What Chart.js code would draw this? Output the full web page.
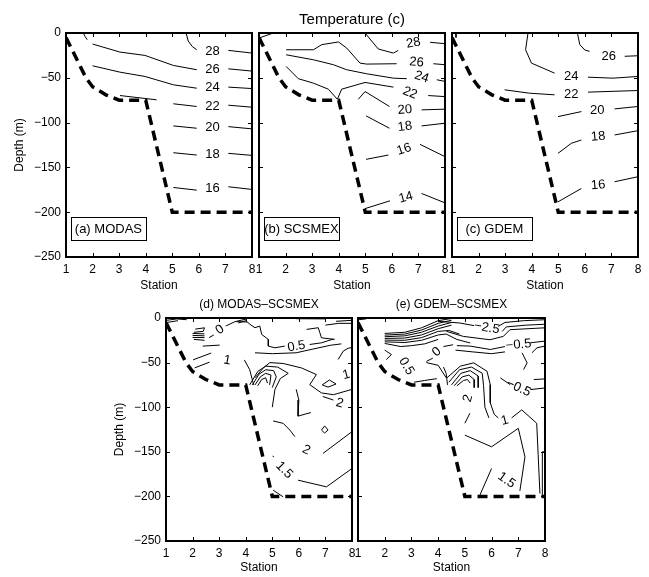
<!DOCTYPE html>
<html>
<head>
<meta charset="utf-8">
<script src="https://cdn.jsdelivr.net/npm/chart.js@4.4.0/dist/chart.umd.min.js"></script>
<style>
body { margin: 0; background: #fff; width: 649px; height: 577px; overflow: hidden; position: relative; }
canvas { position: absolute; left: 0; top: 0; }
</style>
</head>
<body>
<canvas id="pa" width="649" height="577"></canvas>
<canvas id="pb" width="649" height="577"></canvas>
<canvas id="pc" width="649" height="577"></canvas>
<canvas id="pd" width="649" height="577"></canvas>
<canvas id="pe" width="649" height="577"></canvas>
<script>
var FONT = "'Liberation Sans', Arial, sans-serif";

// axes
var stations = [1, 2, 3, 4, 5, 6, 7, 8];
var depthTicks = [0, -50, -100, -150, -200, -250];

// shelf bottom (dashed)
var bottomStation = [1, 1.5, 1.75, 2, 2.5, 3, 4, 5, 8];
var bottomDepth = [-5, -35, -50, -60, -69, -75, -75, -200, -200];

// (a) MODAS contours [station, depth]
var modasLines = [
    [[1.65, 0], [1.72, -4], [1.8, -7.5]],
    [[5.52, 0], [5.6, -9], [5.75, -15], [5.92, -18.7]],
    [[7.11, -19.4], [8, -22.4]],
    [[2.0, -12.3], [3.03, -21.3], [3.97, -25], [5.04, -36.2], [5.92, -41]],
    [[7.11, -40], [8, -42.5]],
    [[2.0, -36.6], [3.03, -43.7], [3.97, -48.5], [5.04, -57.8], [5.92, -61.6]],
    [[7.11, -60.4], [8, -62]],
    [[3.03, -69.8], [4.41, -74.6]],
    [[5.04, -79], [5.92, -82]],
    [[7.11, -80.6], [8, -82.8]],
    [[5.04, -103.7], [5.92, -106.3]],
    [[7.11, -104.5], [8, -107]],
    [[5.04, -133.6], [5.92, -136.2]],
    [[7.11, -134.3], [8, -136.6]],
    [[5.04, -172.4], [5.92, -175.4]],
    [[7.11, -171.6], [8, -174.6]]
];
var modasLabels = [["28", 6.51, -20.5, 0], ["26", 6.51, -41, 0], ["24", 6.51, -60.4, 0], ["22", 6.51, -82, 0],
    ["20", 6.51, -105.6, 0], ["18", 6.51, -135, 0], ["16", 6.51, -173.9, 0]];

// (b) SCSMEX
var scsmexLines = [
    [[1, -5.6], [1.54, 0]],
    [[4.99, 0], [5.49, -17.9], [6.06, -22.4], [6.24, -19.4]],
    [[7.44, -10.4], [8, -11.9]],
    [[2.02, -18.7], [3.05, -18.7], [3.36, -13], [3.99, -10], [4.3, -16.8], [4.8, -33.6], [5.05, -34.7], [6.18, -34.3]],
    [[7.56, -34.3], [8, -35.4]],
    [[2.02, -24.3], [3.05, -29.9], [3.8, -35.4], [4.3, -41], [5.05, -45.5], [6.06, -50.4], [6.56, -51]],
    [[7.69, -52.2], [8, -54]],
    [[2.02, -37.3], [2.48, -51], [3.05, -56], [3.61, -62.7], [3.95, -74], [4.11, -62.7], [4.99, -55.2], [6.06, -60.4]],
    [[7.37, -69.8], [8, -71]],
    [[4.74, -73.9], [4.99, -65.3], [5.91, -82]],
    [[7.12, -85.8], [8, -85]],
    [[5.03, -92.5], [5.91, -106.3]],
    [[7.12, -103.7], [8, -100.7]],
    [[5.03, -141], [5.87, -136.2]],
    [[7.06, -124.3], [8, -138]],
    [[4.99, -196], [5.93, -187.3]],
    [[7.12, -179.1], [8, -189.6]]
];
var scsmexLabels = [["28", 6.81, -11.2, -10], ["26", 6.93, -32.8, 5], ["24", 7.12, -49.3, 18], ["22", 6.68, -67, 22],
    ["20", 6.49, -85.8, -5], ["18", 6.49, -104.5, -8], ["16", 6.46, -129.9, -18], ["14", 6.53, -183.6, -15]];

// (c) GDEM
var gdemLines = [
    [[1.15, 0], [1.15, -5]],
    [[5.72, 0], [5.81, -13], [6.0, -19], [6.18, -20.5]],
    [[7.5, -26], [8, -25.4]],
    [[3.86, 0], [3.77, -18.7], [3.99, -33.6], [4.86, -44.8]],
    [[6.12, -49.3], [7.06, -50.4], [8, -48.5]],
    [[2.98, -63.4], [3.92, -67.2], [4.86, -69]],
    [[6.12, -66], [8, -64.2]],
    [[4.99, -93.3], [5.87, -87.7]],
    [[7.12, -84.7], [8, -82]],
    [[4.99, -134.3], [5.49, -123.1], [5.87, -119.4]],
    [[7.12, -113.8], [8, -109]],
    [[4.99, -188.4], [5.87, -173.5]],
    [[7.12, -166], [8, -160.4]]
];
var gdemLabels = [["26", 6.9, -26, 0], ["24", 5.49, -48.5, 0], ["22", 5.49, -68.3, 0], ["20", 6.47, -86.6, 0],
    ["18", 6.5, -115.7, -5], ["16", 6.5, -169.8, -5]];

// (d) MODAS-SCSMEX
var diffModasLines = [
    [[1.02, -2.6], [1.4, -1.1], [1.78, -1.9]],
    [[1.03, -5], [1.45, -3]],
    [[3.65, -3.7], [4.03, -1.1]],
    [[5.9, -0.8], [7.0, -1]],
    [[7.4, -3.7], [8, -2.6]],
    [[2.1, -12.5], [2.45, -11], [2.4, -15], [2.05, -16]],
    [[2.0, -17.3], [2.45, -17.8]],
    [[2.0, -19.5], [2.45, -20]],
    [[2.0, -21.8], [2.45, -22]],
    [[2.05, -24], [2.45, -25]],
    [[2.38, -31.5], [3.02, -30.4]],
    [[2.62, -22], [2.8, -19]],
    [[3.25, -9], [3.6, -4], [4.05, -4.5]],
    [[2.02, -46.9], [2.7, -39.3]],
    [[2.08, -55.9], [2.64, -49.5]],
    [[3.72, -5.6], [4.0, -3], [4.2, -8], [4.35, -10.9], [4.53, -9], [4.6, -18.4], [4.85, -24], [4.85, -31.5], [5.1, -33.4], [5.47, -31.5]],
    [[6.41, -29.7], [6.85, -27.8], [7.3, -23.6]],
    [[6.29, -12.8], [6.73, -10.9], [6.79, -16.5], [6.85, -22.2], [7.35, -24]],
    [[7.0, -8], [7.5, -6], [8, -6]],
    [[4.35, -39], [5.0, -40], [5.9, -39], [6.5, -35], [7.2, -30.5], [7.6, -29]],
    [[7.48, -46.5], [7.67, -37.2], [7.85, -34], [8, -33]],
    [[4.35, -67], [4.66, -56], [4.91, -50], [5.41, -51], [6.1, -56], [6.66, -63.4], [6.41, -74.7], [6.85, -84], [7.3, -86], [8, -80]],
    [[4.15, -75], [4.45, -60], [4.75, -54], [5.2, -55], [5.6, -62], [5.3, -68], [5.1, -80], [5.0, -100]],
    [[4.25, -75], [4.5, -63], [4.75, -58], [5.05, -59], [5.15, -66], [5.0, -78]],
    [[4.35, -75], [4.55, -66], [4.75, -62], [4.95, -64], [4.9, -75]],
    [[4.45, -76], [4.6, -69], [4.75, -67], [4.82, -73]],
    [[3.95, -47], [4.15, -58], [4.3, -75]],
    [[5.9, -80], [6.0, -92], [5.97, -110], [6.45, -106]],
    [[6.88, -75], [7.15, -69.5], [7.4, -74], [7.1, -77.5], [6.88, -75]],
    [[6.9, -88], [7.3, -92]],
    [[5.03, -115.4], [5.41, -118.1], [5.66, -125.6], [5.85, -133]],
    [[6.85, -125.6], [6.97, -121], [7.1, -125.6], [6.97, -129], [6.85, -125.6]],
    [[6.91, -151.8], [8, -127.4]],
    [[5.97, -181.8], [7.04, -189.3], [8, -168.7]],
    [[5.03, -193], [5.41, -200.5]],
    [[5.02, -154.5], [5.05, -156]]
];
var diffModasLabels = [["0", 3.03, -13.1, -35], ["1", 3.3, -47.6, 10], ["0.5", 5.91, -31.9, -10], ["1", 7.79, -63.7, -15],
    ["2", 7.54, -95.6, 15], ["2", 6.28, -148, 25], ["1.5", 5.45, -170.5, 45]];

// (e) GDEM-SCSMEX
var diffGdemLines = [
    [[1, -2], [1.3, -1]],
    [[2.0, -17.3], [2.75, -16], [3.38, -11], [4.0, -3], [4.5, -0.5]],
    [[2.0, -19.2], [2.75, -18], [3.38, -13.5], [4.0, -6], [4.5, -2.5]],
    [[2.0, -21], [2.75, -20], [3.38, -16], [4.0, -9], [4.5, -5]],
    [[2.0, -22.9], [2.75, -22.5], [3.38, -19], [4.0, -12], [4.5, -8]],
    [[2.0, -24.8], [2.75, -25], [3.38, -22], [4.0, -15], [4.4, -14], [4.8, -18]],
    [[2.0, -26.7], [2.75, -27.5], [3.38, -25], [4.0, -19], [4.3, -18], [4.7, -24], [5.2, -28]],
    [[2.0, -28.5], [2.6, -32], [3.0, -31], [3.5, -29], [4.0, -24]],
    [[4.0, -3.7], [4.81, -5.6], [5.35, -8.6]],
    [[6.25, -9.4], [6.5, -5], [7.2, -3], [8, -1.9]],
    [[6.4, -15], [6.55, -10], [7.3, -8], [8, -7]],
    [[4.31, -15], [4.94, -20.6], [5.94, -24.4], [6.44, -20.6], [6.69, -13.1], [8, -11]],
    [[4.7, -31], [5.2, -31.5], [5.95, -35.3], [6.5, -32]],
    [[4.65, -36], [5.3, -38], [6.0, -40], [6.5, -38]],
    [[7.45, -27.8], [8, -25.9]],
    [[7.14, -39], [7.33, -50.3], [7.2, -57.8]],
    [[7.51, -39], [7.7, -33.4], [8, -31.5]],
    [[3.56, -48.7], [3.8, -45]],
    [[4.2, -32], [4.56, -30]],
    [[3.56, -50], [4.0, -53], [4.3, -67]],
    [[2.0, -36], [2.06, -37.2], [2.25, -41], [2.06, -46.6]],
    [[3.1, -72], [3.5, -70], [3.95, -68]],
    [[4.2, -55], [4.3, -62], [4.35, -75]],
    [[4.33, -67], [4.83, -54], [5.33, -50.3], [5.83, -59.7], [5.95, -74.7], [5.95, -95], [6.1, -108], [6.25, -112]],
    [[4.4, -72], [4.8, -58], [5.25, -55], [5.65, -62], [5.7, -76], [5.75, -100], [5.9, -112]],
    [[4.5, -75], [4.85, -62], [5.2, -59], [5.5, -65], [5.5, -78]],
    [[4.6, -76], [4.9, -66], [5.15, -64], [5.35, -69], [5.35, -78]],
    [[4.7, -76], [4.95, -70], [5.1, -69], [5.2, -73]],
    [[6.33, -67.2], [6.7, -74.7]],
    [[7.45, -80.3], [8, -78.4]],
    [[7.58, -69], [8, -68.3]],
    [[5.0, -118], [5.19, -106.8]],
    [[5.0, -131.3], [6.0, -144.4], [7.0, -123.7], [7.25, -155.7], [7.06, -193.8]],
    [[6.75, -112], [7.13, -103], [7.69, -118], [7.81, -196.8]],
    [[7.9, -200], [7.9, -150], [8, -150]],
    [[5.56, -198.8], [6.0, -168.7]]
];
var diffGdemLabels = [["\u22122.5", 5.82, -11, 10], ["0", 3.95, -38, -40], ["0.5", 2.81, -54, 60], ["\u22120.5", 7.01, -30, -5],
    ["\u22120.5", 7.01, -78.4, 25], ["2", 5.12, -90, -75], ["1", 6.5, -115, -15], ["1.5", 6.56, -181.9, 35]];

function toPoints(line) {
    return line.map(function (p) { return {x: p[0], y: p[1]}; });
}

function decor(cfg) {
    return {
        id: 'decor',
        afterDraw: function (chart) {
            var c = chart.ctx, a = chart.chartArea, xs = chart.scales.x, ys = chart.scales.y;
            c.save();
            c.fillStyle = '#000';
            c.font = '13px ' + FONT;
            c.textAlign = 'center';
            c.textBaseline = 'middle';
            cfg.labels.forEach(function (L) {
                c.save();
                c.translate(xs.getPixelForValue(L[1]), ys.getPixelForValue(L[2]));
                c.rotate(L[3] * Math.PI / 180);
                c.fillText(L[0], 0, 0);
                c.restore();
            });
            // inward ticks
            c.strokeStyle = '#000';
            c.lineWidth = 1;
            c.beginPath();
            stations.slice(1, -1).forEach(function (v) {
                var px = Math.round(xs.getPixelForValue(v)) + 0.5;
                c.moveTo(px, a.bottom); c.lineTo(px, a.bottom - 4);
                c.moveTo(px, a.top); c.lineTo(px, a.top + 4);
            });
            depthTicks.slice(1, -1).forEach(function (v) {
                var py = Math.round(ys.getPixelForValue(v)) + 0.5;
                c.moveTo(a.left, py); c.lineTo(a.left + 4, py);
                c.moveTo(a.right, py); c.lineTo(a.right - 4, py);
            });
            c.stroke();
            c.lineWidth = 2;
            c.strokeRect(a.left, a.top, a.right - a.left, a.bottom - a.top);
            if (cfg.tag) {
                var x0 = xs.getPixelForValue(1.19), x1 = xs.getPixelForValue(4.0);
                var y0 = ys.getPixelForValue(-205), y1 = ys.getPixelForValue(-231);
                c.fillStyle = '#fff';
                c.fillRect(x0, y0, x1 - x0, y1 - y0);
                c.lineWidth = 1;
                c.strokeRect(Math.round(x0) + 0.5, Math.round(y0) + 0.5, Math.round(x1 - x0), Math.round(y1 - y0));
                c.fillStyle = '#000';
                c.font = '13px ' + FONT;
                c.fillText(cfg.tag, (x0 + x1) / 2, (y0 + y1) / 2 + 1);
            }
            if (cfg.title) {
                c.font = cfg.titleSize + 'px ' + FONT;
                c.fillText(cfg.title, (a.left + a.right) / 2, a.top - 13);
            }
            c.restore();
        }
    };
}

function makePanel(id, area, cfg) {
    var yw = cfg.yLabels ? 60 : 0;
    var xh = 36;
    var bottom = {
        data: bottomStation.map(function (s, i) { return {x: s, y: bottomDepth[i]}; }),
        showLine: true, borderColor: '#000', borderWidth: 3.5, borderDash: [10, 6],
        borderCapStyle: 'butt', pointRadius: 0, tension: 0, fill: false
    };
    var sets = [bottom].concat(cfg.lines.map(function (l) {
        return {data: toPoints(l), showLine: true, borderColor: '#000', borderWidth: 1,
            pointRadius: 0, tension: 0, fill: false};
    }));
    return new Chart(document.getElementById(id).getContext('2d'), {
        type: 'scatter',
        data: {datasets: sets},
        options: {
            responsive: false,
            animation: false,
            devicePixelRatio: 1,
            layout: {padding: {left: area.l - yw, top: area.t, right: 649 - area.r, bottom: 577 - area.b - xh}},
            plugins: {legend: {display: false}, tooltip: {enabled: false}},
            scales: {
                x: {
                    type: 'linear', min: 1, max: 8,
                    afterFit: function (s) { s.height = xh; },
                    afterBuildTicks: function (s) { s.ticks = stations.map(function (v) { return {value: v}; }); },
                    ticks: {padding: 5, color: '#000', maxRotation: 0, font: {family: FONT, size: 12}},
                    grid: {display: false, drawTicks: false},
                    border: {display: false},
                    title: {display: true, text: 'Station', color: '#000', font: {family: FONT, size: 12},
                        padding: {top: 0, bottom: cfg.xtPad}}
                },
                y: {
                    type: 'linear', min: -250, max: 0,
                    afterFit: function (s) { s.width = yw; },
                    afterBuildTicks: function (s) { s.ticks = depthTicks.map(function (v) { return {value: v}; }); },
                    ticks: {display: cfg.yLabels, padding: 5, color: '#000', font: {family: FONT, size: 12},
                        callback: function (v) { return v < 0 ? '\u2212' + (-v) : '' + v; }},
                    grid: {display: false, drawTicks: false},
                    border: {display: false},
                    title: {display: cfg.yLabels, text: 'Depth (m)', color: '#000', font: {family: FONT, size: 12},
                        padding: {top: 6, bottom: 0}}
                }
            }
        },
        plugins: [decor(cfg)]
    });
}

makePanel('pa', {l: 66, t: 33, r: 252, b: 257}, {yLabels: true, xtPad: 0, lines: modasLines, labels: modasLabels, tag: '(a) MODAS'});
makePanel('pb', {l: 259, t: 33, r: 445, b: 257}, {yLabels: false, xtPad: 0, lines: scsmexLines, labels: scsmexLabels, tag: '(b) SCSMEX',
    title: 'Temperature (c)', titleSize: 15});
makePanel('pc', {l: 452, t: 33, r: 638, b: 257}, {yLabels: false, xtPad: 0, lines: gdemLines, labels: gdemLabels, tag: '(c) GDEM'});
makePanel('pd', {l: 166, t: 318, r: 352, b: 541}, {yLabels: true, xtPad: 2, lines: diffModasLines, labels: diffModasLabels,
    title: '(d) MODAS\u2013SCSMEX', titleSize: 12});
makePanel('pe', {l: 358, t: 318, r: 545, b: 541}, {yLabels: false, xtPad: 2, lines: diffGdemLines, labels: diffGdemLabels,
    title: '(e) GDEM\u2013SCSMEX', titleSize: 12});
</script>
</body>
</html>
